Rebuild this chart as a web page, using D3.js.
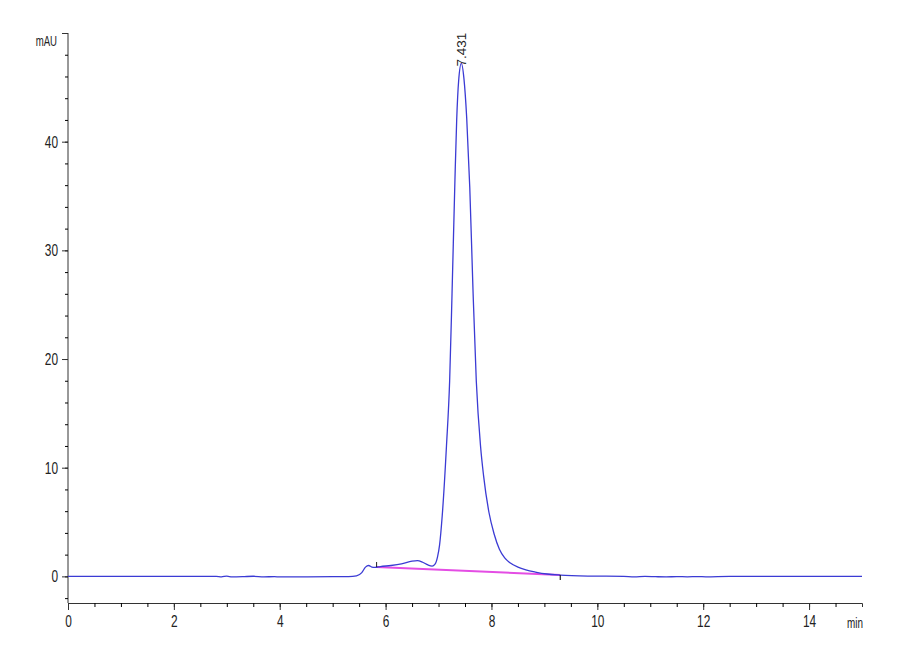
<!DOCTYPE html>
<html>
<head>
<meta charset="utf-8">
<script src="https://cdn.jsdelivr.net/npm/d3@7"></script>
<style>
  body { margin: 0; background: #fff; }
  svg text { font-family: "Liberation Sans", Arial, sans-serif; fill: #222; }
</style>
</head>
<body>
<div id="chart"></div>
<script>
// retention time (min) and detector signal (mAU)
const times = [0, 1, 2, 2.8, 2.9, 3.0, 3.1, 3.3, 3.5, 3.7, 3.9, 4.0, 4.5, 5.0, 5.3, 5.45, 5.55, 5.62, 5.68, 5.74, 5.8,
  5.9, 6.1, 6.3, 6.5, 6.6, 6.7, 6.8, 6.88, 6.93, 6.98, 7.02, 7.07, 7.15, 7.21, 7.255, 7.31, 7.343, 7.38, 7.431,
  7.48, 7.532, 7.59, 7.65, 7.713, 7.795, 7.85, 7.952, 8.05, 8.15, 8.25, 8.35, 8.5, 8.65, 8.83, 9.05, 9.3, 9.84,
  10.5, 10.7, 10.9, 11.1, 11.3, 11.5, 11.7, 11.9, 12.05, 12.5, 13, 14, 15];
const signal = [0, 0, 0, 0, -0.04, 0.02, -0.05, -0.03, 0.01, -0.04, -0.03, -0.05, -0.04, -0.03, -0.02, 0.05, 0.35, 0.85, 1.0, 0.85, 0.82,
  0.9, 1.0, 1.15, 1.4, 1.45, 1.3, 1.05, 0.95, 1.1, 1.78, 2.9, 5.6, 12.0, 18.0, 26.0, 36.5, 42.0, 45.6, 47.2,
  45.8, 42.2, 35.8, 26.5, 18.0, 11.9, 9.3, 5.9, 3.9, 2.5, 1.7, 1.25, 0.85, 0.6, 0.4, 0.22, 0.12, 0.03,
  0, -0.04, 0, -0.03, -0.05, -0.02, -0.04, -0.02, -0.04, 0, 0, 0, 0];

// integration baseline (start / end)
const baseTimes = [5.83, 9.3];
const baseValues = [0.86, 0.12];

// peak annotation
const peakTimes = [7.431];
const peakHeights = [47.2];
const peakLabels = ["7.431"];

// axis ticks
const xMajor = [0, 2, 4, 6, 8, 10, 12, 14];
const xMinor = d3.range(0, 14.51, 0.5);
const yMajor = [0, 10, 20, 30, 40, 50];
const yLabels = ["0", "10", "20", "30", "40", ""];
const yMinor = d3.range(-2, 49, 2);

const width = 900, height = 660;
const margin = { top: 33, right: 38, bottom: 57, left: 68 };
const squeeze = 0.7; // narrow look of the instrument's tick font

const svg = d3.select("#chart").append("svg")
  .attr("width", width)
  .attr("height", height);

const x = d3.scaleLinear().domain([0, 15]).range([margin.left, width - margin.right]);
const y = d3.scaleLinear().domain([-2.45, 50]).range([height - margin.bottom, margin.top]);

const axisColor = "#333";

// x axis: minor ticks, then major ticks with labels
const xMinorAxis = d3.axisBottom(x).tickValues(xMinor).tickSize(4).tickFormat("");
const xMajorAxis = d3.axisBottom(x).tickValues(xMajor).tickSize(7).tickPadding(5).tickFormat(d3.format("d"));

svg.append("g").attr("transform", `translate(0,${y.range()[0]})`).call(xMinorAxis)
  .call(g => g.select(".domain").attr("stroke", axisColor));
svg.append("g").attr("transform", `translate(0,${y.range()[0]})`).call(xMajorAxis)
  .call(g => g.select(".domain").remove())
  .call(g => g.selectAll("line").attr("stroke", axisColor))
  .call(g => g.selectAll("text").attr("font-size", 17).attr("fill", "#222")
    .attr("transform", `scale(${squeeze},1)`));

// y axis
const yMinorAxis = d3.axisLeft(y).tickValues(yMinor).tickSize(3).tickFormat("");
const yMajorAxis = d3.axisLeft(y).tickValues(yMajor).tickSize(6).tickPadding(6)
  .tickFormat((d, i) => yLabels[i]);

svg.append("g").attr("transform", `translate(${margin.left},0)`).call(yMinorAxis)
  .call(g => g.select(".domain").attr("stroke", axisColor).attr("d", `M0,${y.range()[0]}V${y.range()[1]}`));
svg.append("g").attr("transform", `translate(${margin.left},0)`).call(yMajorAxis)
  .call(g => g.select(".domain").remove())
  .call(g => g.selectAll("line").attr("stroke", axisColor))
  .call(g => g.selectAll("text").attr("font-size", 17).attr("fill", "#222")
    .attr("x", -10 / squeeze)
    .attr("transform", `scale(${squeeze},1)`));

// unit labels
svg.append("text")
  .attr("transform", `translate(${margin.left - 11},${margin.top + 13}) scale(0.64,1)`)
  .attr("text-anchor", "end")
  .attr("font-size", 15)
  .text("mAU");

svg.append("text")
  .attr("transform", `translate(${width - margin.right + 1},${y.range()[0] + 25}) scale(0.66,1)`)
  .attr("text-anchor", "end")
  .attr("font-size", 15)
  .text("min");

// integration baseline
const pts = times.map((t, i) => [t, signal[i]]);
const basePts = baseTimes.map((t, i) => [t, baseValues[i]]);

svg.append("path")
  .datum(basePts)
  .attr("fill", "none")
  .attr("stroke", "#e44de4")
  .attr("stroke-width", 2)
  .attr("d", d3.line().x(d => x(d[0])).y(d => y(d[1])));

// chromatogram trace
svg.append("path")
  .datum(pts)
  .attr("fill", "none")
  .attr("stroke", "#3b3bd4")
  .attr("stroke-width", 1.3)
  .attr("d", d3.line().curve(d3.curveMonotoneX).x(d => x(d[0])).y(d => y(d[1])));

// integration start/end markers
svg.append("line")
  .attr("x1", x(baseTimes[0])).attr("x2", x(baseTimes[0]))
  .attr("y1", y(baseValues[0]) - 5).attr("y2", y(baseValues[0]))
  .attr("stroke", "#222").attr("stroke-width", 1);
svg.append("line")
  .attr("x1", x(baseTimes[1])).attr("x2", x(baseTimes[1]))
  .attr("y1", y(baseValues[1])).attr("y2", y(baseValues[1]) + 5)
  .attr("stroke", "#222").attr("stroke-width", 1.2);

// peak retention time label
svg.selectAll(".peak-label")
  .data(peakTimes)
  .enter()
  .append("text")
  .attr("class", "peak-label")
  .attr("transform", (d, i) => `translate(${x(d) + 5},${y(peakHeights[i]) + 3}) rotate(-90)`)
  .attr("font-size", 13.5)
  .attr("text-anchor", "start")
  .text((d, i) => peakLabels[i]);
</script>
</body>
</html>
